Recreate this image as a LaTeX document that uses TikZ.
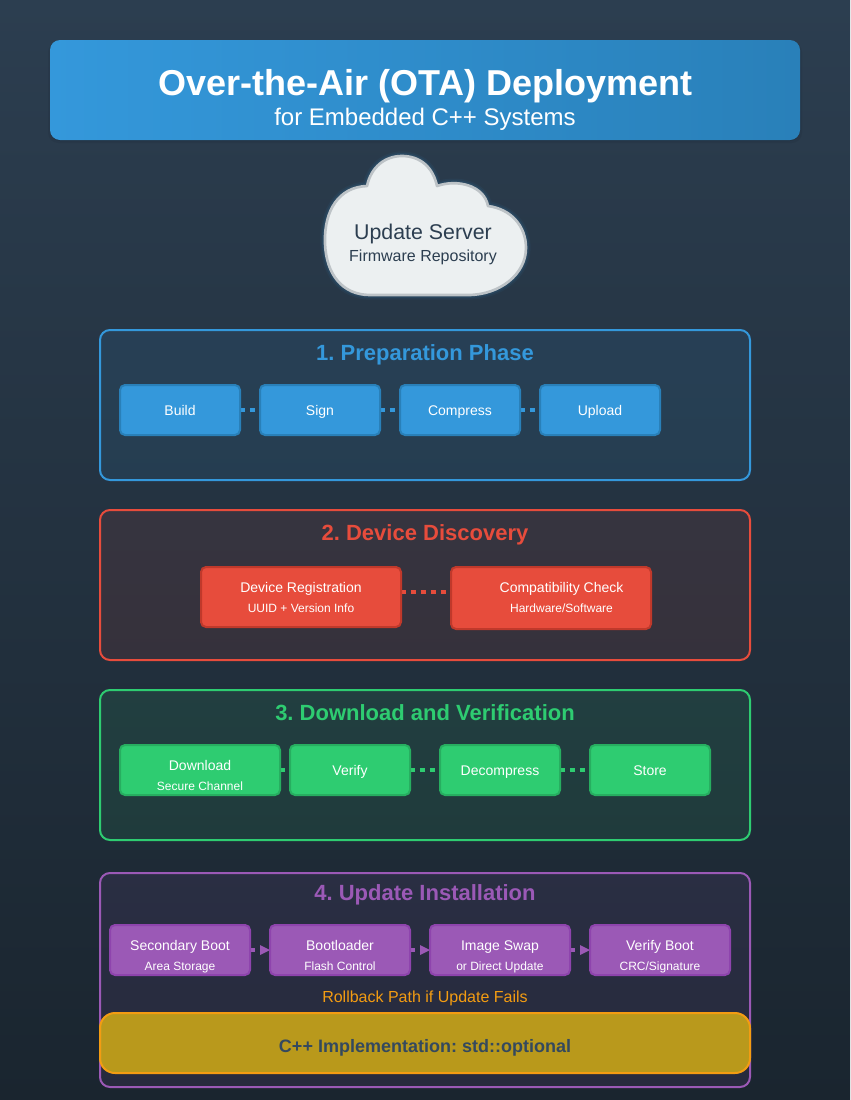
\documentclass[tikz,border=0pt]{standalone}
\usepackage{fontspec}
\setmainfont{Liberation Sans}
\usetikzlibrary{arrows.meta}
\frenchspacing
\definecolor{bgtop}{HTML}{2C3E50}
\definecolor{bgbot}{HTML}{1A252F}
\definecolor{cblue}{HTML}{3498DB}
\definecolor{dblue}{HTML}{2980B9}
\definecolor{cred}{HTML}{E74C3C}
\definecolor{dred}{HTML}{C0392B}
\definecolor{cgreen}{HTML}{2ECC71}
\definecolor{dgreen}{HTML}{27AE60}
\definecolor{cpurple}{HTML}{9B59B6}
\definecolor{dpurple}{HTML}{8E44AD}
\definecolor{cyel}{HTML}{F1C40F}
\definecolor{corange}{HTML}{F39C12}
\definecolor{cloudfill}{HTML}{ECF0F1}
\definecolor{cloudline}{HTML}{BDC3C7}
\definecolor{impltext}{HTML}{34495E}
\newcommand{\fa}{\fontsize{10.5pt}{12pt}\selectfont}
\newcommand{\fb}{\fontsize{9pt}{11pt}\selectfont}
\newcommand{\fc}{\frenchspacing\fontsize{16.5pt}{19pt}\selectfont\bfseries}
\pgfdeclarelayer{bg}
\pgfdeclarelayer{conn}
\pgfsetlayers{bg,conn,main}
\tikzset{
  x=0.75pt,y=-0.75pt,
  every node/.style={inner sep=0pt,outer sep=0pt},
  panel/.style n args={3}{draw=#1,line width=1.5pt,fill=#1,fill opacity=0.1,draw opacity=1,
    rounded corners=7.5pt,minimum width=#2*0.75pt,minimum height=#3*0.75pt,anchor=north west},
  stage/.style n args={4}{draw=#2,fill=#1,line width=1.5pt,rounded corners=3.75pt,
    minimum width=#3*0.75pt,minimum height=#4*0.75pt,anchor=north west},
  main label/.style={anchor=base,text=white,font=\fa},
  sub label/.style={anchor=base,text=white,font=\fb},
  phase title/.style={anchor=base,font=\fc},
  link/.style={line width=2.5pt,dash pattern=on 3.75pt off 3.75pt},
  arrowlink/.style={link,-{Triangle[length=7.5pt,width=7.5pt,line width=0pt]}},
}
\begin{document}
\begin{tikzpicture}
\useasboundingbox (0,0) rectangle (850,1100);
\begin{pgfonlayer}{bg}
\fill[top color=bgtop,bottom color=bgbot] (0,0) rectangle (850,1100);
% header shadow
\fill[black,opacity=0.05,rounded corners=7.5pt] (48,42) rectangle (802,143);
\fill[black,opacity=0.06,rounded corners=7.5pt] (50,43) rectangle (800,141);
% panels
\node[panel={cblue}{650}{150}] (p1) at (100,330) {};
\node[panel={cred}{650}{150}] (p2) at (100,510) {};
\node[panel={cgreen}{650}{150}] (p3) at (100,690) {};
\node[panel={cpurple}{650}{214}] (p4) at (100,873) {};
\end{pgfonlayer}
% header
\path[left color=cblue,right color=dblue,rounded corners=7.5pt] (50,40) rectangle (800,140);
\node[anchor=base,text=white,font=\fontsize{27pt}{30pt}\selectfont\bfseries] (title) at (425.5,95) {Over-the-Air (OTA) Deployment};
\node[anchor=base,text=white,font=\fontsize{18pt}{21pt}\selectfont] (subtitle) at (425,125) {for Embedded C++ Systems};
% cloud
\def\cloudpath{(370,295) .. controls (343,295) and (326,275) .. (325,243) .. controls (324,210) and (339,187) .. (367,186) .. controls (371,167) and (385,156) .. (402,156) .. controls (420,156) and (433,167) .. (437,186) .. controls (457,179) and (484,185) .. (488,206) .. controls (511,209) and (526,226) .. (526,248) .. controls (526,274) and (500,295) .. (468,295) -- cycle}
\draw[cblue,opacity=0.06,line width=7pt,line join=round] \cloudpath;
\draw[cblue,opacity=0.10,line width=4.5pt,line join=round] \cloudpath;
\draw[cloudline,fill=cloudfill,line width=2pt,line join=round] \cloudpath;
\node[anchor=base,text=bgtop,font=\fontsize{16pt}{19pt}\selectfont] (srv) at (423,239) {Update Server};
\node[anchor=base,text=bgtop,font=\fontsize{12pt}{14pt}\selectfont] (repo) at (423,261) {Firmware Repository};
% phase 1
\node[phase title,text=cblue] (t1) at (425,360) {1. Preparation Phase};
\node[stage={cblue}{dblue}{120}{50}] (build) at (120,385) {};
\node[stage={cblue}{dblue}{120}{50}] (sign) at (260,385) {};
\node[stage={cblue}{dblue}{120}{50}] (compress) at (400,385) {};
\node[stage={cblue}{dblue}{120}{50}] (upload) at (540,385) {};
\node[main label] (buildt) at (180,415) {Build};
\node[main label] (signt) at (320,415) {Sign};
\node[main label] (compresst) at (460,415) {Compress};
\node[main label] (uploadt) at (600,415) {Upload};
% phase 2
\node[phase title,text=cred] (t2) at (425,540) {2. Device Discovery};
\node[stage={cred}{dred}{200}{60}] (reg) at (201,567) {};
\node[stage={cred}{dred}{200}{62}] (compat) at (451,567) {};
\node[main label] (regt) at (301,592) {Device Registration};
\node[sub label] (regs) at (301,612) {UUID + Version Info};
\node[main label] (compatt) at (561.5,592) {Compatibility Check};
\node[sub label] (compats) at (561.5,612) {Hardware/Software};
% phase 3
\node[phase title,text=cgreen] (t3) at (425,720) {3. Download and Verification};
\node[stage={cgreen}{dgreen}{160}{50}] (down) at (120,745) {};
\node[stage={cgreen}{dgreen}{120}{50}] (verify) at (290,745) {};
\node[stage={cgreen}{dgreen}{120}{50}] (decomp) at (440,745) {};
\node[stage={cgreen}{dgreen}{120}{50}] (store) at (590,745) {};
\node[main label] (downt) at (200,770) {Download};
\node[sub label] (downs) at (200,790) {Secure Channel};
\node[main label] (verifyt) at (350,775) {Verify};
\node[main label] (decompt) at (500,775) {Decompress};
\node[main label] (storet) at (650,775) {Store};
% phase 4
\node[phase title,text=cpurple] (t4) at (425,900) {4. Update Installation};
\node[stage={cpurple}{dpurple}{140}{50}] (sec) at (110,925) {};
\node[stage={cpurple}{dpurple}{140}{50}] (boot) at (270,925) {};
\node[stage={cpurple}{dpurple}{140}{50}] (swap) at (430,925) {};
\node[stage={cpurple}{dpurple}{140}{50}] (vboot) at (590,925) {};
\node[main label] (sect) at (180,950) {Secondary Boot};
\node[sub label] (secs) at (180,970) {Area Storage};
\node[main label] (boott) at (340,950) {Bootloader};
\node[sub label] (boots) at (340,970) {Flash Control};
\node[main label] (swapt) at (500,950) {Image Swap};
\node[sub label] (swaps) at (500,970) {or Direct Update};
\node[main label] (vboott) at (660,950) {Verify Boot};
\node[sub label] (vboots) at (660,970) {CRC/Signature};
% rollback
\node[anchor=base,text=corange,font=\fontsize{12pt}{14pt}\selectfont] (roll) at (425,1002) {Rollback Path if Update Fails};
\node[draw=corange,line width=1.5pt,fill=cyel,fill opacity=0.72,draw opacity=1,rounded corners=11.25pt,
  minimum width=487.5pt,minimum height=45pt,anchor=north west] (impl) at (100,1013) {};
\node[anchor=base,text=impltext,font=\frenchspacing\fontsize{13.5pt}{16pt}\selectfont\bfseries] (implt) at (425,1052) {C++ Implementation: std::optional};
% connectors
\begin{pgfonlayer}{conn}
\draw[link,cblue] (build.east) -- (sign.west);
\draw[link,cblue] (sign.east) -- (compress.west);
\draw[link,cblue] (compress.east) -- (upload.west);
\draw[link,cred] ([yshift=3.75pt]reg.east) -- ([yshift=3.75pt]reg.east -| compat.west);
\draw[link,cgreen] (down.east) -- (verify.west);
\draw[link,cgreen] (verify.east) -- (decomp.west);
\draw[link,cgreen] (decomp.east) -- (store.west);
\draw[arrowlink,cpurple] (sec.east) -- (boot.west);
\draw[arrowlink,cpurple] (boot.east) -- (swap.west);
\draw[arrowlink,cpurple] (swap.east) -- (vboot.west);
\end{pgfonlayer}
\end{tikzpicture}
\end{document}
